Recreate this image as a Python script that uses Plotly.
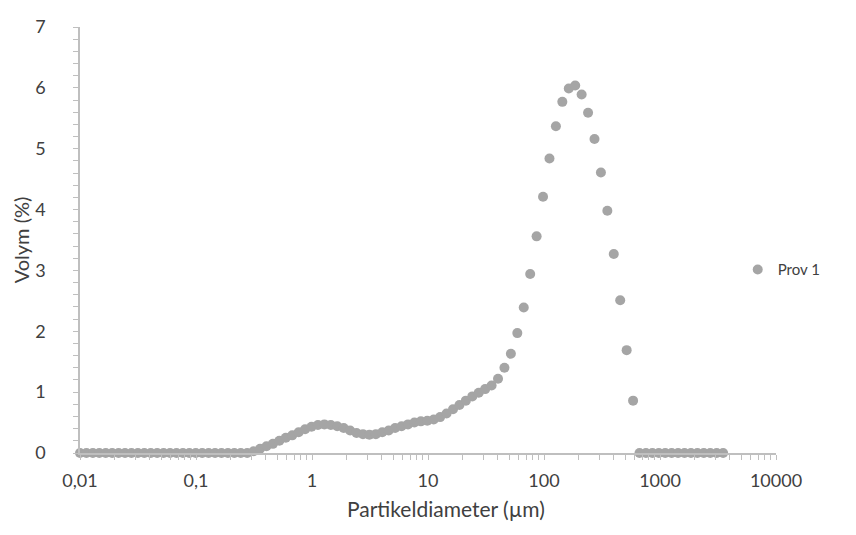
import numpy as np
import plotly.graph_objects as go

# Particle size classes: 101 log-spaced diameters from 0.01 to 3500 µm
n_classes = 101
diameter_um = [float(v) for v in np.logspace(np.log10(0.01), np.log10(3500), n_classes)]

# Volume percentage per size class (Prov 1)
volume_pct = (
    [0.0] * 27
    + [0.03, 0.07, 0.11, 0.15, 0.20, 0.25, 0.29, 0.34, 0.39, 0.43,
       0.46, 0.47, 0.46, 0.44, 0.41, 0.37, 0.33, 0.31, 0.30, 0.31,
       0.34, 0.37, 0.41, 0.44, 0.47, 0.50, 0.52, 0.53, 0.55, 0.59,
       0.65, 0.72, 0.79, 0.86, 0.93, 0.99, 1.05, 1.11, 1.22, 1.40,
       1.63, 1.97, 2.39, 2.94, 3.56, 4.21, 4.84, 5.37, 5.77, 5.99,
       6.04, 5.89, 5.59, 5.16, 4.61, 3.98, 3.27, 2.51, 1.69, 0.86]
    + [0.0] * 14
)

x_tickvals = [0.01, 0.1, 1, 10, 100, 1000, 10000]
x_ticktext = ["0,01", "0,1", "1", "10", "100", "1000", "10000"]
x_minor = [m * 10.0 ** e for e in range(-2, 4) for m in range(2, 10)]

series_name = "Prov 1"
x_title = "Partikeldiameter (µm)"
y_title = "Volym (%)"
axis_color = "#bfbfbf"
font_family = "Lato, 'Open Sans', sans-serif"

fig = go.Figure()
fig.add_trace(go.Scatter(
    x=diameter_um,
    y=volume_pct,
    mode="markers",
    name=series_name,
    marker=dict(size=10, color="#a5a5a5"),
    cliponaxis=False,
))

# x-axis title placed as a centred paper annotation below the tick labels
fig.add_annotation(
    text=x_title, xref="paper", yref="paper",
    x=0.526, y=-0.13, xanchor="center", yanchor="middle",
    showarrow=False, font=dict(size=21, color="#404040"),
)

fig.update_layout(
    width=856,
    height=535,
    margin=dict(l=80, r=80, t=27, b=82),
    paper_bgcolor="white",
    plot_bgcolor="white",
    font=dict(family=font_family, size=18, color="#404040"),
    showlegend=True,
    legend=dict(
        x=0.945, y=0.43, xanchor="left", yanchor="middle",
        font=dict(size=15, color="#404040"),
        itemwidth=30, bgcolor="rgba(0,0,0,0)",
    ),
    xaxis=dict(
        type="log",
        range=[-2, 4],
        tickvals=x_tickvals,
        ticktext=x_ticktext,
        ticks="outside",
        ticklen=5,
        tickcolor=axis_color,
        ticklabelstandoff=6,
        showline=True,
        linecolor=axis_color,
        linewidth=1.5,
        showgrid=False,
        zeroline=False,
        minor=dict(tickvals=x_minor, ticks="outside", ticklen=5,
                   tickcolor=axis_color, showgrid=False),
        tickfont=dict(size=18),
    ),
    yaxis=dict(
        range=[0, 7],
        dtick=1,
        ticks="outside",
        ticklen=5,
        tickcolor=axis_color,
        ticklabelstandoff=24,
        showline=True,
        linecolor=axis_color,
        linewidth=1.5,
        showgrid=False,
        zeroline=False,
        minor=dict(dtick=0.2, ticks="outside", ticklen=5,
                   tickcolor=axis_color, showgrid=False),
        title=dict(text=y_title, font=dict(size=20), standoff=0),
        tickfont=dict(size=18),
    ),
)

fig.write_html("out.html")
